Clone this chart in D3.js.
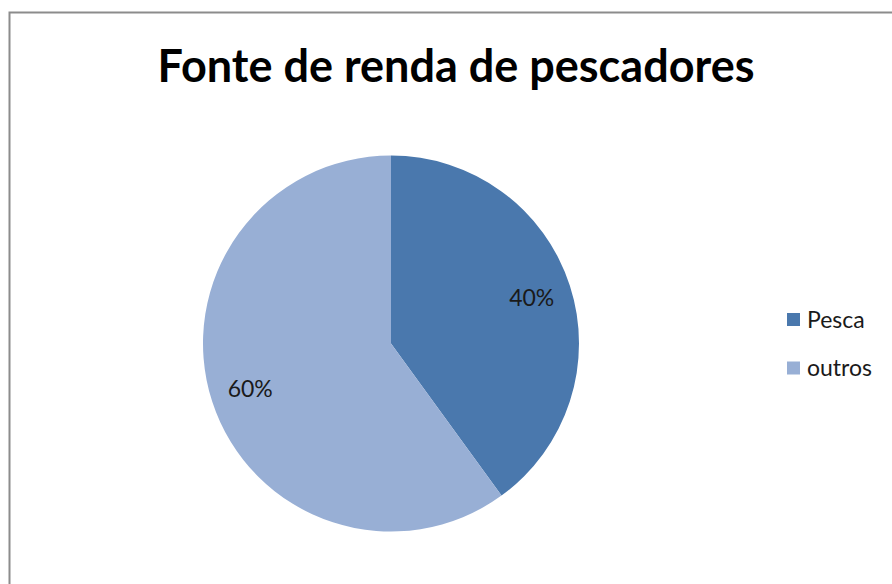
<!DOCTYPE html>
<html><head><meta charset="utf-8">
<script src="https://cdn.jsdelivr.net/npm/d3@7"></script>
<style>body{margin:0;background:#fff}svg{display:block}</style>
</head><body>
<script>
const categories = ["Pesca", "outros"];
const values = [40, 60];
const labels = ["40%", "60%"];
const colors = ["#4A78AD", "#98AFD5"];
const title = "Fonte de renda de pescadores";

const W = 892, H = 584;
const svg = d3.select("body").append("svg").attr("width", W).attr("height", H);
svg.append("rect").attr("width", W).attr("height", H).attr("fill", "#fff");
svg.append("rect").attr("x", 9.5).attr("y", 12.5).attr("width", W + 20).attr("height", H + 20)
  .attr("fill", "none").attr("stroke", "#8c8c8c").attr("stroke-width", 2);

svg.append("text").attr("x", 456).attr("y", 82).attr("text-anchor", "middle")
  .attr("font-family", "Lato, 'Open Sans', sans-serif").attr("font-weight", "bold")
  .attr("font-size", 45).attr("fill", "#000").text(title);

const cx = 391, cy = 343.5, r = 188;
const pie = d3.pie().sort(null).value(d => d)(values);
const arc = d3.arc().innerRadius(0).outerRadius(r);
const labelArc = d3.arc().innerRadius(148).outerRadius(148);
const g = svg.append("g").attr("transform", `translate(${cx},${cy})`);
g.selectAll("path").data(pie).join("path").attr("d", arc).attr("fill", (d, i) => colors[i]);
g.selectAll("text").data(pie).join("text")
  .attr("transform", d => `translate(${labelArc.centroid(d)})`)
  .attr("text-anchor", "middle").attr("dy", "0.35em")
  .attr("font-family", "Lato, 'Open Sans', sans-serif").attr("font-size", 23).attr("fill", "#1a1a1a")
  .text((d, i) => labels[i]);

const y = d3.scalePoint().domain(categories).range([319.5, 368]);
const lg = svg.append("g");
lg.selectAll("rect").data(categories).join("rect")
  .attr("x", 787).attr("y", d => y(d) - 6.5).attr("width", 13).attr("height", 13)
  .attr("fill", (d, i) => colors[i]);
lg.selectAll("text").data(categories).join("text")
  .attr("x", 807).attr("y", d => y(d)).attr("dy", "0.35em")
  .attr("font-family", "Lato, 'Open Sans', sans-serif").attr("font-size", 23).attr("fill", "#1a1a1a")
  .text(d => d);
</script>
</body></html>
